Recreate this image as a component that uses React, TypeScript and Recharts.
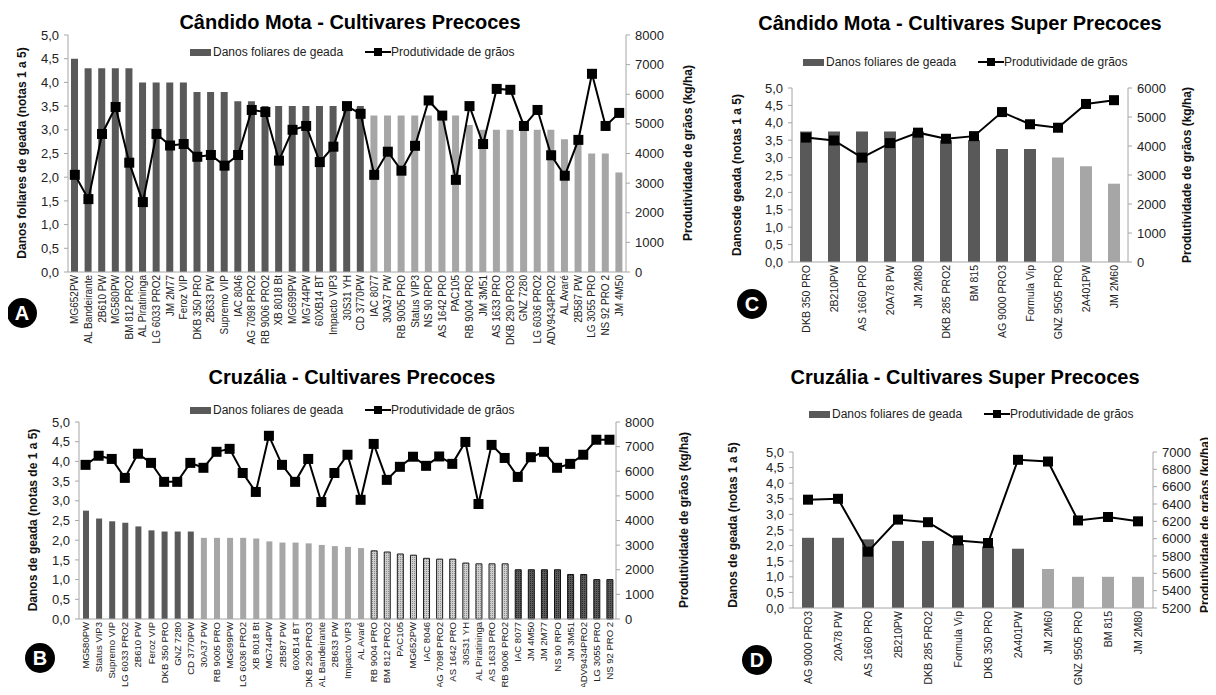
import React from 'react';
import { ComposedChart, Bar, Line, XAxis, YAxis, Cell } from 'recharts';

// Cândido Mota - precoces
const cultivaresA = ['MG652PW', 'AL Bandeirante', '2B610 PW', 'MG580PW', 'BM 812 PRO2', 'AL Piratininga', 'LG 6033 PRO2', 'JM 2M77', 'Feroz VIP', 'DKB 350 PRO', '2B633 PW', 'Supremo VIP', 'IAC 8046', 'AG 7098 PRO2', 'RB 9006 PRO2', 'XB 8018 Bt', 'MG699PW', 'MG744PW', '60XB14 BT', 'Impacto VIP3', '30S31 YH', 'CD 3770PW', 'IAC 8077', '30A37 PW', 'RB 9005 PRO', 'Status VIP3', 'NS 90 RPO', 'AS 1642 PRO', 'PAC105', 'RB 9004 PRO', 'JM 3M51', 'AS 1633 PRO', 'DKB 290 PRO3', 'GNZ 7280', 'LG 6036 PRO2', 'ADV9434PRO2', 'AL Avaré', '2B587 PW', 'LG 3055 PRO', 'NS 92 PRO 2', 'JM 4M50'];
const danosA = [4.5, 4.3, 4.3, 4.3, 4.3, 4.0, 4.0, 4.0, 4.0, 3.8, 3.8, 3.8, 3.6, 3.6, 3.5, 3.5, 3.5, 3.5, 3.5, 3.5, 3.5, 3.5, 3.3, 3.3, 3.3, 3.3, 3.3, 3.3, 3.3, 3.1, 3.0, 3.0, 3.0, 3.0, 3.0, 3.0, 2.8, 2.8, 2.5, 2.5, 2.1];
const prodA = [3280, 2460, 4660, 5570, 3690, 2360, 4660, 4270, 4320, 3890, 3950, 3590, 3950, 5470, 5400, 3760, 4800, 4930, 3710, 4230, 5600, 5340, 3280, 4060, 3420, 4260, 5790, 5280, 3110, 5600, 4320, 6180, 6150, 4930, 5470, 3940, 3250, 4460, 6690, 4930, 5370];
const gruposA = [0, 0, 0, 0, 0, 0, 0, 0, 0, 0, 0, 0, 0, 0, 0, 0, 0, 0, 0, 0, 0, 0, 1, 1, 1, 1, 1, 1, 1, 1, 1, 1, 1, 1, 1, 1, 1, 1, 1, 1, 1];

// Cruzália - precoces
const cultivaresB = ['MG580PW', 'Status VIP3', 'Supremo VIP', 'LG 6033 PRO2', '2B610 PW', 'Feroz VIP', 'DKB 350 PRO', 'GNZ 7280', 'CD 3770PW', '30A37 PW', 'RB 9005 PRO', 'MG699PW', 'LG 6036 PRO2', 'XB 8018 Bt', 'MG744PW', '2B587 PW', '60XB14 BT', 'DKB 290 PRO3', 'AL Bandeirante', '2B633 PW', 'Impacto VIP3', 'AL Avaré', 'RB 9004 PRO', 'BM 812 PRO2', 'PAC105', 'MG652PW', 'IAC 8046', 'AG 7098 PRO2', 'AS 1642 PRO', '30S31 YH', 'AL Piratininga', 'AS 1633 PRO', 'RB 9006 PRO2', 'IAC 8077', 'JM 4M50', 'JM 2M77', 'NS 90 RPO', 'JM 3M51', 'ADV9434PRO2', 'LG 3055 PRO', 'NS 92 PRO 2'];
const danosB = [2.75, 2.55, 2.48, 2.44, 2.35, 2.25, 2.22, 2.22, 2.22, 2.06, 2.06, 2.06, 2.06, 2.04, 1.97, 1.94, 1.94, 1.92, 1.88, 1.85, 1.83, 1.8, 1.73, 1.7, 1.65, 1.62, 1.54, 1.52, 1.52, 1.42, 1.4, 1.4, 1.4, 1.25, 1.25, 1.25, 1.25, 1.13, 1.13, 1.0, 1.0];
const prodB = [6260, 6630, 6500, 5730, 6710, 6340, 5570, 5570, 6340, 6140, 6790, 6910, 5930, 5160, 7440, 6260, 5570, 6500, 4750, 5930, 6670, 4840, 7110, 5650, 6180, 6590, 6220, 6600, 6300, 7190, 4670, 7070, 6540, 5770, 6570, 6790, 6140, 6300, 6670, 7280, 7280];
const gruposB = [0, 0, 0, 0, 0, 0, 0, 0, 0, 1, 1, 1, 1, 1, 1, 1, 1, 1, 1, 1, 1, 1, 2, 2, 2, 2, 2, 2, 2, 2, 2, 2, 2, 3, 3, 3, 3, 3, 3, 3, 3];

// Cândido Mota - super precoces
const cultivaresC = ['DKB 350 PRO', '2B210PW', 'AS 1660 PRO', '20A78 PW', 'JM 2M80', 'DKB 285  PRO2', 'BM 815', 'AG 9000 PRO3', 'Formula Vip', 'GNZ 9505 PRO', '2A401PW', 'JM 2M60'];
const danosC = [3.75, 3.75, 3.75, 3.75, 3.75, 3.5, 3.5, 3.25, 3.25, 3.0, 2.75, 2.25];
const prodC = [4290, 4190, 3600, 4100, 4460, 4250, 4340, 5170, 4750, 4630, 5450, 5580];
const gruposC = [0, 0, 0, 0, 0, 0, 0, 0, 0, 1, 1, 1];

// Cruzália - super precoces
const cultivaresD = ['AG 9000 PRO3', '20A78 PW', 'AS 1660 PRO', '2B210PW', 'DKB 285  PRO2', 'Formula Vip', 'DKB 350 PRO', '2A401PW', 'JM 2M60', 'GNZ 9505 PRO', 'BM 815', 'JM 2M80'];
const danosD = [2.25, 2.25, 2.2, 2.15, 2.15, 2.05, 1.97, 1.9, 1.25, 1.0, 1.0, 1.0];
const prodD = [6450, 6460, 5850, 6220, 6190, 5980, 5950, 6910, 6890, 6210, 6250, 6200];
const gruposD = [0, 0, 0, 0, 0, 0, 0, 0, 1, 1, 1, 1];

const ticksNotas = [0, 0.5, 1, 1.5, 2, 2.5, 3, 3.5, 4, 4.5, 5];
const ticksProd8 = [0, 1000, 2000, 3000, 4000, 5000, 6000, 7000, 8000];
const ticksProd6 = [0, 1000, 2000, 3000, 4000, 5000, 6000];
const ticksProdD = [5200, 5400, 5600, 5800, 6000, 6200, 6400, 6600, 6800, 7000];

const FONT = '"Liberation Sans", Arial, sans-serif';
const CORES = ['#595959', '#a6a6a6', 'url(#pontoClaro)', 'url(#pontoEscuro)'];
const BORDAS = ['none', 'none', '#1a1a1a', '#111'];
const EIXO = '#a6a6a6';

const virgula = (v: number) => v.toFixed(1).replace('.', ',');

const quadrado = (p: any) => (
  <rect key={`q${p.index}`} x={p.cx - 5} y={p.cy - 5} width={10} height={10} fill="#000" />
);

const XTick = (p: any) => (
  <text
    x={p.x + 3.5}
    y={p.y}
    transform={`rotate(-90 ${p.x + 3.5} ${p.y})`}
    textAnchor="end"
    fontSize={p.fs}
    fontFamily={FONT}
    fill="#222"
  >
    {p.payload.value}
  </text>
);

function Painel(props: any) {
  const { left, top, width, height, plotTop, lw, rw, xh, cats, danos, prod, grupos, rTicks, barSize, fs } = props;
  const data = cats.map((name: string, i: number) => ({ name, danos: danos[i], prod: prod[i] }));
  const tickStyle = { fontSize: 13, fontFamily: FONT, fill: '#222' };
  return (
    <div style={{ position: 'absolute', left, top }}>
      <ComposedChart width={width} height={height} data={data} margin={{ top: plotTop, right: 0, bottom: 0, left: 0 }}>
        <XAxis
          dataKey="name"
          interval={0}
          height={xh}
          tickLine={false}
          tickSize={1}
          tickMargin={2}
          axisLine={{ stroke: EIXO }}
          tick={(t: any) => <XTick {...t} fs={fs} />}
        />
        <YAxis
          yAxisId="l"
          width={lw}
          domain={[0, 5]}
          ticks={ticksNotas}
          interval={0}
          tickFormatter={virgula}
          tick={tickStyle}
          tickSize={4}
          tickMargin={5}
          axisLine={{ stroke: EIXO }}
          tickLine={{ stroke: EIXO }}
        />
        <YAxis
          yAxisId="r"
          orientation="right"
          width={rw}
          domain={[rTicks[0], rTicks[rTicks.length - 1]]}
          ticks={rTicks}
          interval={0}
          tick={tickStyle}
          tickSize={4}
          tickMargin={5}
          axisLine={{ stroke: EIXO }}
          tickLine={{ stroke: EIXO }}
        />
        <Bar yAxisId="l" dataKey="danos" barSize={barSize} isAnimationActive={false}>
          {grupos.map((g: number, i: number) => (
            <Cell key={i} fill={CORES[g]} stroke={BORDAS[g]} strokeWidth={g > 1 ? 1 : 0} />
          ))}
        </Bar>
        <Line
          yAxisId="r"
          dataKey="prod"
          stroke="#000"
          strokeWidth={2}
          dot={quadrado}
          activeDot={false}
          isAnimationActive={false}
        />
      </ComposedChart>
    </div>
  );
}

const Titulo = ({ x, y, children }: any) => (
  <div style={{ position: 'absolute', left: x, top: y, transform: 'translate(-50%, -50%)', fontSize: 20, fontWeight: 'bold', whiteSpace: 'nowrap' }}>
    {children}
  </div>
);

const Vertical = ({ x, y, children }: any) => (
  <div style={{ position: 'absolute', left: x, top: y, transform: 'translate(-50%, -50%) rotate(-90deg)', fontSize: 12, fontWeight: 'bold', whiteSpace: 'nowrap', color: '#111' }}>
    {children}
  </div>
);

const Legenda = ({ x, y }: any) => (
  <div style={{ position: 'absolute', left: x, top: y, transform: 'translateY(-50%)', display: 'flex', alignItems: 'center', fontSize: 12, whiteSpace: 'nowrap', color: '#222' }}>
    <span style={{ display: 'inline-block', width: 21, height: 7, background: '#595959', marginRight: 2 }} />
    <span>Danos foliares de geada</span>
    <svg width={26} height={10} style={{ marginLeft: 22 }}>
      <line x1={0} y1={5} x2={26} y2={5} stroke="#000" strokeWidth={2} />
      <rect x={9} y={1} width={8} height={8} fill="#000" />
    </svg>
    <span>Produtividade de grãos</span>
  </div>
);

const Selo = ({ x, y, letra }: any) => (
  <div style={{ position: 'absolute', left: x - 15, top: y - 15, width: 30, height: 30, borderRadius: 15, background: '#000', color: '#fff', fontWeight: 'bold', fontSize: 20, display: 'flex', alignItems: 'center', justifyContent: 'center' }}>
    {letra}
  </div>
);

export default function App() {
  return (
    <div style={{ position: 'relative', width: 1216, height: 695, margin: -8, background: '#fff', fontFamily: FONT, overflow: 'hidden' }}>
      <svg width={0} height={0} style={{ position: 'absolute' }}>
        <defs>
          <pattern id="pontoClaro" width={2} height={2} patternUnits="userSpaceOnUse">
            <rect width={2} height={2} fill="#cfcfcf" />
            <rect width={1} height={1} fill="#8c8c8c" />
          </pattern>
          <pattern id="pontoEscuro" width={2} height={2} patternUnits="userSpaceOnUse">
            <rect width={2} height={2} fill="#5a5a5a" />
            <rect width={1} height={1} fill="#2a2a2a" />
          </pattern>
        </defs>
      </svg>

      <Painel left={0} top={0} width={700} height={354} plotTop={35} lw={68} rw={74} xh={82}
        cats={cultivaresA} danos={danosA} prod={prodA} grupos={gruposA} rTicks={ticksProd8} barSize={7} fs={10} />
      <Painel left={0} top={387} width={700} height={308} plotTop={35} lw={79} rw={84} xh={76}
        cats={cultivaresB} danos={danosB} prod={prodB} grupos={gruposB} rTicks={ticksProd8} barSize={6} fs={9.5} />
      <Painel left={700} top={0} width={516} height={340} plotTop={88} lw={92} rw={88} xh={78}
        cats={cultivaresC} danos={danosC} prod={prodC} grupos={gruposC} rTicks={ticksProd6} barSize={12} fs={10.5} />
      <Painel left={700} top={387} width={516} height={308} plotTop={65} lw={93} rw={63} xh={87}
        cats={cultivaresD} danos={danosD} prod={prodD} grupos={gruposD} rTicks={ticksProdD} barSize={12} fs={10.5} />

      <Titulo x={350} y={22}>Cândido Mota - Cultivares Precoces</Titulo>
      <Titulo x={352} y={377}>Cruzália - Cultivares Precoces</Titulo>
      <Titulo x={960} y={23}>Cândido Mota - Cultivares Super Precoces</Titulo>
      <Titulo x={965} y={377}>Cruzália - Cultivares Super Precoces</Titulo>

      <Legenda x={803} y={62} />
      <Legenda x={190} y={52} />
      <Legenda x={190} y={410} />
      <Legenda x={809} y={414} />

      <Vertical x={22} y={153}>Danos foliares de geada (notas 1 a 5)</Vertical>
      <Vertical x={688} y={153}>Produtividade de grãos (kg/ha)</Vertical>
      <Vertical x={33} y={520}>Danos de geada (notas de 1 a 5)</Vertical>
      <Vertical x={684} y={520}>Produtividade de grãos (kg/ha)</Vertical>
      <Vertical x={737} y={175}>Danosde geada (notas 1 a 5)</Vertical>
      <Vertical x={1187} y={175}>Produtividade de grãos (kg/ha)</Vertical>
      <Vertical x={733} y={525}>Danos de geada (notas 1 a 5)</Vertical>
      <Vertical x={1205} y={525}>Produtividade de grãos (kg/ha)</Vertical>

      <Selo x={22} y={313} letra="A" />
      <Selo x={40} y={658} letra="B" />
      <Selo x={752} y={304} letra="C" />
      <Selo x={757} y={660} letra="D" />
    </div>
  );
}
